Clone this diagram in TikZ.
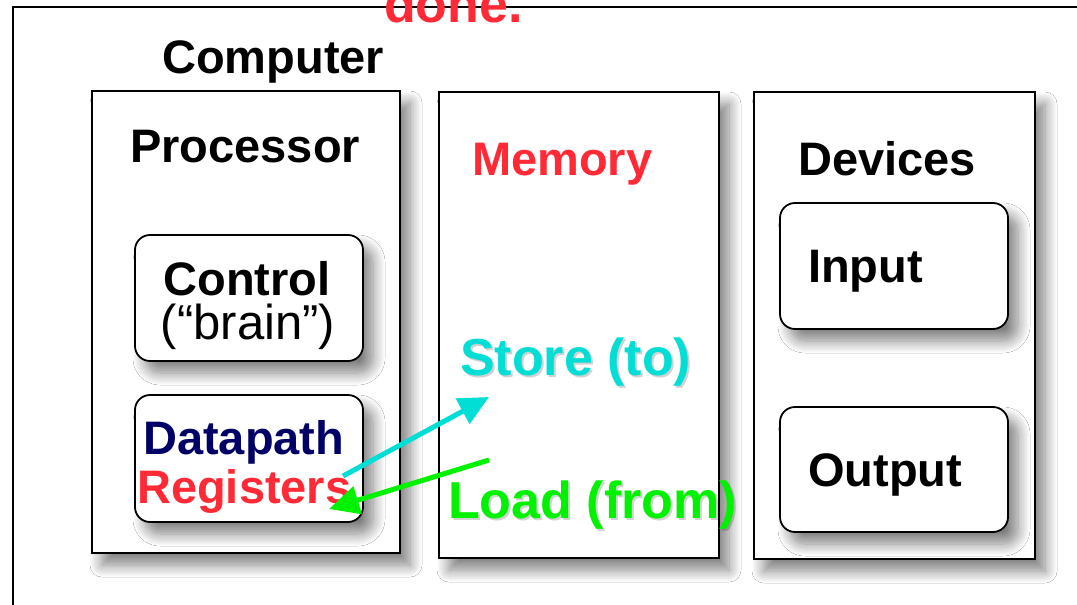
\documentclass[tikz,border=0pt]{standalone}
\usepackage{fontspec}
\setmainfont{Liberation Sans}
\usetikzlibrary{arrows.meta,shadows.blur}
\definecolor{myred}{RGB}{255,42,54}
\definecolor{mynavy}{RGB}{0,0,102}
\definecolor{mycyan}{RGB}{0,222,214}
\definecolor{mygreen}{RGB}{0,242,0}
\tikzset{
  shad/.style={blur shadow={shadow xshift=10pt,shadow yshift=-12pt,shadow blur radius=12pt,shadow blur steps=12,shadow opacity=50}},
  bigbox/.style={draw,line width=1.8pt,fill=white,shad,inner sep=0pt},
  smallbox/.style={draw,line width=1.8pt,fill=white,rounded corners=15pt,shad,inner sep=0pt},
  lbl/.style={inner sep=0pt,anchor=base west,font=\fontsize{47}{56}\selectfont\bfseries},
  biglbl/.style={inner sep=0pt,anchor=base west,font=\fontsize{52}{60}\selectfont\bfseries},
  tshadow/.style={text=black,opacity=0.18},
  arr/.style={line width=5pt,-{Triangle[length=30pt,width=28pt]}}
}
\begin{document}
\begin{tikzpicture}[x=1pt,y=-1pt]
\useasboundingbox (0,0) rectangle (1077,605);
\clip (0,0) rectangle (1077,605);
\fill[white] (0,0) rectangle (1077,605);
\draw[line width=2pt] (13,7) rectangle (1095,630);
\node[biglbl,text=myred] (done) at (384,23) {done.};
\node[lbl] (computer) at (162,73) {Computer};
% main boxes
\node[bigbox,minimum width=308pt,minimum height=462pt] (proc) at (246,322) {};
\node[bigbox,minimum width=280pt,minimum height=466pt] (mem) at (579,325) {};
\node[bigbox,minimum width=281pt,minimum height=467pt] (dev) at (894.5,325.5) {};
% inner boxes
\node[smallbox,minimum width=228pt,minimum height=126pt] (ctrl) at (249,298) {};
\node[smallbox,minimum width=228pt,minimum height=127pt] (dp) at (249,458.5) {};
\node[smallbox,minimum width=228pt,minimum height=126pt] (inp) at (894,266) {};
\node[smallbox,minimum width=228pt,minimum height=125pt] (outp) at (894,469.5) {};
% labels
\node[lbl] (proct) at (130,162) {Processor};
\node[lbl,text=myred] (memt) at (472,175) {Memory};
\node[lbl] (devt) at (798,175) {Devices};
\node[lbl] (inpt) at (808,282) {Input};
\node[lbl] (outpt) at (808,486) {Output};
\node[lbl,anchor=base] (ctrlt) at (247,295) {Control};
\node[inner sep=0pt,anchor=base,font=\fontsize{49}{58}\selectfont] (brain) at (248,339) {(“brain”)};
\node[lbl,text=mynavy] (dpt) at (143,454) {Datapath};
\node[lbl,text=myred] (regt) at (137,503) {Registers};
% store / load labels with light shadow
\node[biglbl,tshadow] at (462,377) {Store (to)};
\node[biglbl,text=mycyan] (store) at (460,375) {Store (to)};
\node[biglbl,tshadow] at (450,520) {Load (from)};
\node[biglbl,text=mygreen] (load) at (448,518) {Load (from)};
% arrows
\coordinate (sA) at (343,476);
\coordinate (sB) at (489,397);
\coordinate (lA) at (489,460);
\coordinate (lB) at (329,509);
\draw[arr,mycyan] (sA) -- (sB);
\draw[arr,mygreen] (lA) -- (lB);
\end{tikzpicture}
\end{document}
